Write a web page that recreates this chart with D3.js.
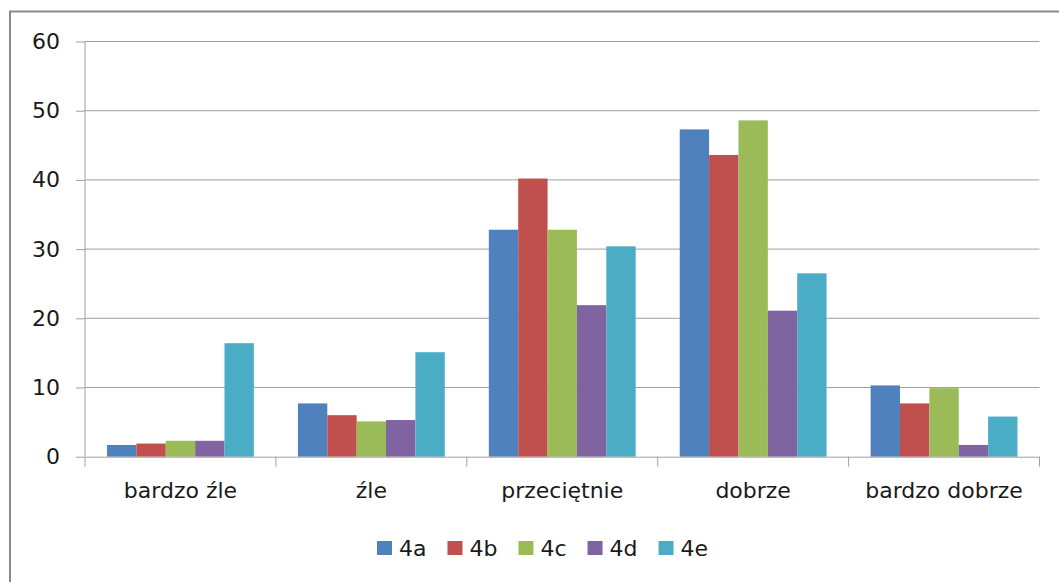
<!DOCTYPE html>
<html>
<head>
<meta charset="utf-8">
<script src="https://cdn.jsdelivr.net/npm/d3@7"></script>
<style>
  body { margin: 0; background: #fff; }
  text { font-family: "DejaVu Sans", Verdana, sans-serif; fill: #1a1a1a; }
</style>
</head>
<body>
<svg width="1059" height="582"></svg>
<script>
// categories and series
var categories = ["bardzo źle", "źle", "przeciętnie", "dobrze", "bardzo dobrze"];
var series = ["4a", "4b", "4c", "4d", "4e"];
var colors = ["#4F81BD", "#C0504D", "#9BBB59", "#8064A2", "#4BACC6"];
var yTicks = [0, 10, 20, 30, 40, 50, 60];

// values per series, in category order
var v4a = [1.7, 7.7, 32.8, 47.3, 10.3];
var v4b = [1.9, 6.0, 40.2, 43.6, 7.7];
var v4c = [2.3, 5.1, 32.8, 48.6, 9.9];
var v4d = [2.3, 5.3, 21.9, 21.1, 1.7];
var v4e = [16.4, 15.1, 30.4, 26.5, 5.8];
var values = [v4a, v4b, v4c, v4d, v4e];

var svg = d3.select("svg");

// outer chart frame
svg.append("rect")
    .attr("x", 10).attr("y", 11.5)
    .attr("width", 1100).attr("height", 700)
    .attr("fill", "none")
    .attr("stroke", "#8a8a8a")
    .attr("stroke-width", 2);

var plotLeft = 85, plotRight = 1039.5, plotTop = 41.5, plotBottom = 456.7;

var x0 = d3.scaleBand().domain(categories).range([plotLeft, plotRight]).padding(0);
var bw = x0.bandwidth();
var barW = bw / 6.5;
var x1 = d3.scaleBand().domain(series).range([barW * 0.75, bw - barW * 0.75]).padding(0);
var y = d3.scaleLinear().domain([0, 60]).range([plotBottom, plotTop]);

// y ticks + labels
var yAxis = svg.append("g")
    .attr("transform", "translate(" + plotLeft + ",0)")
    .call(d3.axisLeft(y).tickValues(yTicks).tickSize(9).tickPadding(16));
yAxis.select(".domain").remove();
yAxis.selectAll("line").attr("stroke", "#a0a0a0");
yAxis.selectAll("text").style("font-size", "22px").attr("fill", "#1a1a1a");

// gridlines
svg.append("g").selectAll("line")
    .data(yTicks.filter(function(d) { return d > 0; }))
    .enter().append("line")
    .attr("x1", plotLeft).attr("x2", plotRight)
    .attr("y1", function(d) { return y(d); })
    .attr("y2", function(d) { return y(d); })
    .attr("stroke", "#a0a0a0");

// bars
var groups = svg.append("g").selectAll("g")
    .data(categories)
    .enter().append("g")
    .attr("transform", function(d) { return "translate(" + x0(d) + ",0)"; });

groups.selectAll("rect")
    .data(function(c, ci) {
        return series.map(function(s, si) { return { s: s, si: si, v: values[si][ci] }; });
    })
    .enter().append("rect")
    .attr("x", function(d) { return x1(d.s); })
    .attr("width", x1.bandwidth())
    .attr("y", function(d) { return y(d.v); })
    .attr("height", function(d) { return plotBottom - y(d.v); })
    .attr("fill", function(d) { return colors[d.si]; });

// y axis line
svg.append("line")
    .attr("x1", plotLeft).attr("x2", plotLeft)
    .attr("y1", plotTop).attr("y2", plotBottom)
    .attr("stroke", "#a0a0a0");

// x axis
var xAxis = svg.append("g")
    .attr("transform", "translate(0," + plotBottom + ")")
    .call(d3.axisBottom(x0).tickSize(0).tickPadding(26));
xAxis.select(".domain").attr("stroke", "#a0a0a0");
xAxis.selectAll("text").style("font-size", "22px").attr("fill", "#1a1a1a");

// x boundary ticks
var bounds = categories.map(function(c) { return x0(c); }).concat([plotRight]);
svg.append("g").selectAll("line")
    .data(bounds)
    .enter().append("line")
    .attr("x1", function(d) { return d; }).attr("x2", function(d) { return d; })
    .attr("y1", plotBottom).attr("y2", plotBottom + 10)
    .attr("stroke", "#a0a0a0");

// legend
var legend = svg.append("g");
var lx = 377;
series.forEach(function(s, i) {
    legend.append("rect")
        .attr("x", lx).attr("y", 541)
        .attr("width", 15).attr("height", 14)
        .attr("fill", colors[i]);
    var t = legend.append("text")
        .attr("x", lx + 22).attr("y", 556)
        .style("font-size", "22px")
        .text(s);
    lx += 22 + t.node().getComputedTextLength() + 21;
});
</script>
</body>
</html>
